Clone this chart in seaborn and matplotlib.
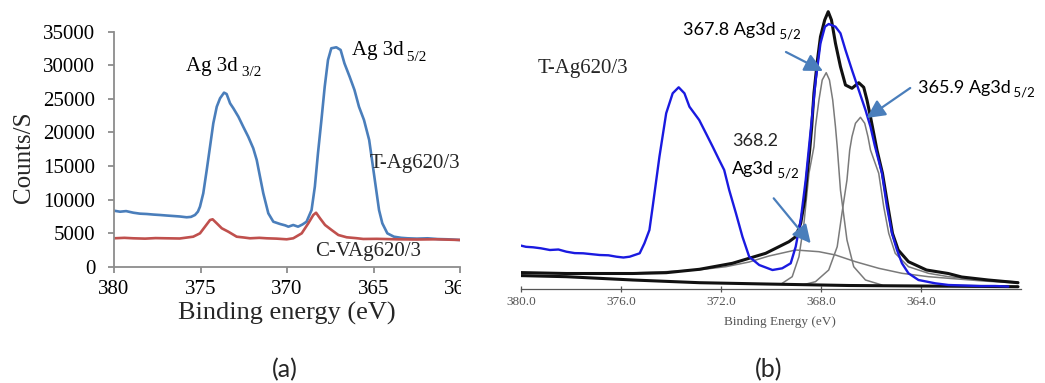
import matplotlib
matplotlib.use("Agg")
import matplotlib.pyplot as plt
import seaborn as sns
from matplotlib.transforms import Bbox, TransformedBbox

# ---------------- Panel (a): XPS survey of Ag 3d ----------------
t_energy = [380.0, 379.65, 379.3, 378.88, 378.5, 378.11, 377.7, 377.34, 376.95, 376.57, 376.2,
            375.8, 375.55, 375.32, 375.15, 375.03, 374.84, 374.64, 374.45, 374.26, 374.06, 373.87,
            373.64, 373.49, 373.29, 373.1, 372.81, 372.53, 372.24, 371.95, 371.75, 371.56, 371.37,
            371.08, 370.79, 370.4, 370.1, 369.92, 369.64, 369.36, 369.1, 368.87, 368.58, 368.39,
            368.21, 368.01, 367.82, 367.63, 367.44, 367.3, 367.15, 366.9, 366.68, 366.38, 366.1,
            365.84, 365.55, 365.25, 365.06, 364.87, 364.68, 364.49, 364.2, 363.82, 363.4, 363.03,
            362.5, 361.87, 361.3, 360.71, 360.0]
t_counts = [8340, 8190, 8280, 8040, 7900, 7850, 7760, 7700, 7620, 7550, 7480,
            7360, 7420, 7700, 8200, 8940, 10930, 14400, 17870, 21360, 23830, 25080,
            25920, 25720, 24330, 23590, 22340, 20850, 19360, 17630, 15890, 13400, 10930,
            7950, 6700, 6360, 6150, 5960, 6210, 5960, 6300, 6700, 8440, 11920,
            16890, 21850, 26810, 30790, 32530, 32600, 32680, 32280, 30290, 28300, 26320,
            23830, 21850, 18870, 15400, 11920, 8440, 6460, 4970, 4470, 4300, 4230,
            4180, 4230, 4120, 4080, 3980]

c_energy = [380.0, 379.4, 378.88, 378.2, 377.6, 376.95, 376.2, 375.42, 375.03, 374.74, 374.45,
            374.3, 374.06, 373.77, 373.39, 372.91, 372.5, 372.14, 371.6, 371.17, 370.6, 370.02,
            369.64, 369.15, 368.77, 368.48, 368.32, 368.09, 367.8, 367.42, 367.03, 366.55, 366.0,
            365.59, 364.8, 363.66, 362.5, 361.4, 360.0]
c_counts = [4230, 4300, 4230, 4180, 4260, 4230, 4200, 4470, 4970, 5960, 6950,
            7060, 6460, 5720, 5210, 4470, 4350, 4230, 4300, 4230, 4180, 4080,
            4230, 4970, 6460, 7700, 8040, 7200, 6210, 5460, 4720, 4380, 4250,
            4130, 4150, 4080, 4050, 4080, 3980]

a_xticks = [380, 375, 370, 365, 360]
a_yticks = [0, 5000, 10000, 15000, 20000, 25000, 30000, 35000]

# ---------------- Panel (b): peak fitting (intensity in arbitrary units) ----------------
b_exp_energy = [380.1, 379.8, 379.51, 379.2, 378.84, 378.5, 378.18, 377.85, 377.51, 377.2,
                376.85, 376.5, 376.18, 375.9, 375.65, 375.25, 375.06,
                374.86, 374.73, 374.46, 374.19, 373.93, 373.69, 373.46, 373.26, 372.87, 372.6,
                372.33, 372.07, 371.87, 371.67, 371.4, 371.14, 370.87, 370.47, 369.94, 369.55,
                369.21, 369.01, 368.81, 368.61, 368.41, 368.21, 368.02, 367.84, 367.69, 367.42,
                367.22, 367.02, 366.76, 366.49, 366.22, 366.02, 365.85, 365.56, 365.36, 365.16,
                364.96, 364.76, 364.5, 364.1, 363.43, 362.9, 362.3, 361.6, 361.04, 360.51]
b_exp_int = [44.3, 42.5, 42.0, 41.0, 39.3, 39.8, 37.6, 36.2, 36.0, 35.2,
             34.3, 34.0, 32.6, 31.8, 32.6, 36.0, 46.0,
             59.3, 82.6, 132.6, 176.0, 196.0, 202.0, 196.0, 182.6, 169.3, 156.0,
             142.6, 129.3, 119.3, 99.3, 76.0, 52.6, 32.6, 24.3, 19.3, 21.0,
             26.0, 42.6, 69.3, 109.3, 159.3, 209.3, 246.0, 262.6, 265.3, 262.6,
             256.0, 239.3, 219.3, 199.3, 179.3, 162.6, 144.0, 116.0, 82.6, 56.0,
             39.3, 26.0, 16.0, 9.3, 6.0, 4.3, 3.8, 3.2, 3.3, 2.8]

b_env_energy = [380.16, 378.18, 375.52, 374.19, 372.86, 371.54, 370.21, 369.28, 369.01, 368.81,
                368.65, 368.55, 368.45, 368.37, 368.28, 368.14, 368.02, 367.85, 367.71, 367.58,
                367.42, 367.22, 367.02, 366.76, 366.49, 366.29, 366.16, 366.02, 365.89, 365.76,
                365.54, 365.32, 365.14, 364.91, 364.5, 363.78, 362.91, 362.37, 361.31, 360.12]
b_env_int = [16.8, 15.8, 15.8, 16.6, 20.0, 26.0, 36.0, 47.6, 52.6, 66.0,
             89.3, 116.0, 139.3, 162.6, 196.3, 229.3, 252.6, 269.3, 277.6, 269.3,
             246.0, 222.6, 204.3, 201.0, 206.6, 202.0, 189.3, 172.6, 156.0, 139.3,
             116.0, 82.6, 56.0, 39.3, 27.6, 19.3, 15.8, 12.3, 9.3, 6.6]

b_bg_energy = [380.16, 378.18, 375.52, 372.86, 370.21, 366.89, 360.12]
b_bg_int = [13.8, 12.6, 9.3, 6.6, 5.3, 3.8, 2.6]

b_p1_energy = [369.55, 369.15, 368.88, 368.68, 368.48, 368.28, 368.22, 368.08, 367.95, 367.79,
               367.66, 367.53, 367.42, 367.35, 367.22, 366.96, 366.69, 366.22, 365.56]
b_p1_int = [6.0, 12.6, 32.6, 66.0, 116.0, 142.6, 162.6, 189.3, 209.3, 216.6,
            209.3, 189.3, 162.6, 142.6, 99.3, 49.3, 22.6, 9.3, 4.3]

b_p2_energy = [368.75, 368.22, 367.69, 367.35, 367.16, 366.96, 366.85, 366.76, 366.62, 366.42,
               366.25, 366.12, 366.02, 365.69, 365.49, 365.29, 365.03, 364.5, 363.7, 362.9,
               361.51, 360.12]
b_p2_int = [4.3, 7.6, 19.3, 42.6, 76.0, 109.3, 139.3, 152.6, 166.0, 172.0,
            166.0, 152.6, 139.3, 116.0, 82.6, 56.0, 36.0, 22.6, 16.0, 12.6,
            9.3, 7.3]

b_p3_energy = [376.85, 374.46, 372.86, 371.8, 370.87, 370.08, 369.01, 368.08, 367.42, 366.62,
               365.69, 364.76, 363.7, 362.9, 361.51, 360.12]
b_p3_int = [15.3, 17.3, 19.5, 22.6, 27.3, 33.3, 39.3, 37.6, 34.3, 27.6,
            21.0, 16.0, 12.6, 11.0, 8.3, 6.3]

b_xticks = [380, 376, 372, 368, 364]
b_xticklabels = ["380.0", "376.0", "372.0", "368.0", "364.0"]

# ---------------- Figure ----------------
sns.set_style("white")
SERIF = ["Liberation Serif", "DejaVu Serif"]
SANS = ["Lato", "DejaVu Sans"]
plt.rcParams["font.family"] = SERIF

W, H = 1045, 383
fig = plt.figure(figsize=(W / 100, H / 100), dpi=100)
fig.patch.set_facecolor("white")


def rect(l, t, r, b):
    return [l / W, 1 - b / H, (r - l) / W, (b - t) / H]


def sub_label(ax, x, y, main, sub, fs, subfs, family, dy_pt, gap_pt=0, color="black"):
    t = ax.text(x, y, main, fontsize=fs, family=family, ha="left", va="baseline", color=color)
    ax.annotate(sub, xy=(1, 0), xycoords=t, xytext=(gap_pt, dy_pt), textcoords="offset points",
                fontsize=subfs, family=family, ha="left", va="baseline", color=color)
    return t


# ---- panel (a)
axa = fig.add_axes(rect(114, 31.7, 460, 266.7))
sns.lineplot(x=t_energy, y=t_counts, ax=axa, color="#4a7ebb", linewidth=1.9,
             sort=False, estimator=None)
sns.lineplot(x=c_energy, y=c_counts, ax=axa, color="#c0504d", linewidth=1.9,
             sort=False, estimator=None)
axa.set_xlim(380, 360)
axa.set_ylim(0, 35000)
axa.set_xticks(a_xticks)
axa.set_xticklabels([str(v) for v in a_xticks])
axa.set_yticks(a_yticks)
axa.set_yticklabels([str(v) for v in a_yticks])
sns.despine(ax=axa)
for s in ("left", "bottom"):
    axa.spines[s].set_color("#8c8c8c")
    axa.spines[s].set_linewidth(1.3)
axa.tick_params(axis="both", which="major", bottom=True, left=True, direction="out",
                length=4.5, width=1.3, color="#8c8c8c", labelsize=15, labelcolor="black")
axa.tick_params(axis="y", pad=9)
axa.tick_params(axis="x", pad=5)
axa.set_xlabel("Binding energy (eV)", fontsize=19, va="center")
axa.xaxis.set_label_coords(0.5, -0.2)
axa.set_ylabel("Counts/S", fontsize=18, va="center")
axa.yaxis.set_label_coords(-0.259, 0.467)

sub_label(axa, 375.84, 29190, "Ag 3d", " 3/2", 15, 11, SERIF, dy_pt=-0.5)
sub_label(axa, 366.26, 31530, "Ag 3d", " 5/2", 15, 11, SERIF, dy_pt=-0.5)
axa.text(365.2, 15400, "T-Ag620/3", fontsize=15, ha="left", va="center")
axa.text(368.38, 2234, "C-VAg620/3", fontsize=15, ha="left", va="center")

clipbox = TransformedBbox(Bbox.from_extents(0, 0, 461 / W, 1), fig.transFigure)
for lab in axa.get_xticklabels():
    lab.set_clip_box(clipbox)
    lab.set_clip_on(True)

# ---- panel (b)
axb = fig.add_axes(rect(520.9, 5, 1021, 289.3))
axb.patch.set_alpha(0)
gray = "#7a7a7a"
for e, i in ((b_p3_energy, b_p3_int), (b_p1_energy, b_p1_int), (b_p2_energy, b_p2_int)):
    sns.lineplot(x=e, y=i, ax=axb, color=gray, linewidth=1.1, sort=False, estimator=None)
sns.lineplot(x=b_bg_energy, y=b_bg_int, ax=axb, color="#111111", linewidth=2.2,
             sort=False, estimator=None)
sns.lineplot(x=b_env_energy, y=b_env_int, ax=axb, color="#111111", linewidth=2.2,
             sort=False, estimator=None)
sns.lineplot(x=b_exp_energy, y=b_exp_int, ax=axb, color="#1a1ae0", linewidth=1.7,
             sort=False, estimator=None)
axb.set_xlim(380, 360)
axb.set_ylim(0, 284.3)
axb.set_yticks([])
for s in ("left", "right", "top"):
    axb.spines[s].set_visible(False)
axb.spines["bottom"].set_color("#555555")
axb.spines["bottom"].set_linewidth(0.9)
axb.set_xticks(b_xticks)
axb.set_xticklabels(b_xticklabels)
axb.tick_params(axis="x", bottom=True, direction="inout", length=4, width=0.9,
                color="#555555", labelsize=9.5, labelcolor="#555555", pad=3)
axb.set_xlabel("Binding Energy (eV)", fontsize=9.5, color="#555555", va="center")
axb.xaxis.set_label_coords(0.517, -0.115)

arrow_kw = dict(arrowstyle="-|>,head_length=1.1,head_width=0.55", color="#4a7ebb",
                lw=1.6, shrinkA=0, shrinkB=0)
axb.annotate("", xy=(367.92, 218.3), xytext=(369.40, 237.3), arrowprops=arrow_kw)
axb.annotate("", xy=(366.17, 171.3), xytext=(364.43, 201.3), arrowprops=arrow_kw)
axb.annotate("", xy=(368.41, 46.0), xytext=(369.89, 91.0), arrowprops=arrow_kw)

sub_label(axb, 373.50, 254.3, "367.8 Ag3d", " 5/2", 13, 9.5, SANS, dy_pt=-0.5)
sub_label(axb, 364.13, 196.3, "365.9 Ag3d", " 5/2", 13, 9.5, SANS, dy_pt=-0.5)
axb.text(371.56, 148.8, "368.2", fontsize=13, family=SANS, ha="left", va="center")
sub_label(axb, 371.56, 115.5, "Ag3d", " 5/2", 13, 9.5, SANS, dy_pt=-0.5)
axb.text(379.32, 221.0, "T-Ag620/3", fontsize=15, ha="left", va="center")

# ---- panel captions
fig.text(285 / W, 1 - 370 / H, "(a)", fontsize=18, family=SANS, ha="center", va="center")
fig.text(768.5 / W, 1 - 370 / H, "(b)", fontsize=18, family=SANS, ha="center", va="center")

fig.savefig("out.png", dpi=100, facecolor="white")
